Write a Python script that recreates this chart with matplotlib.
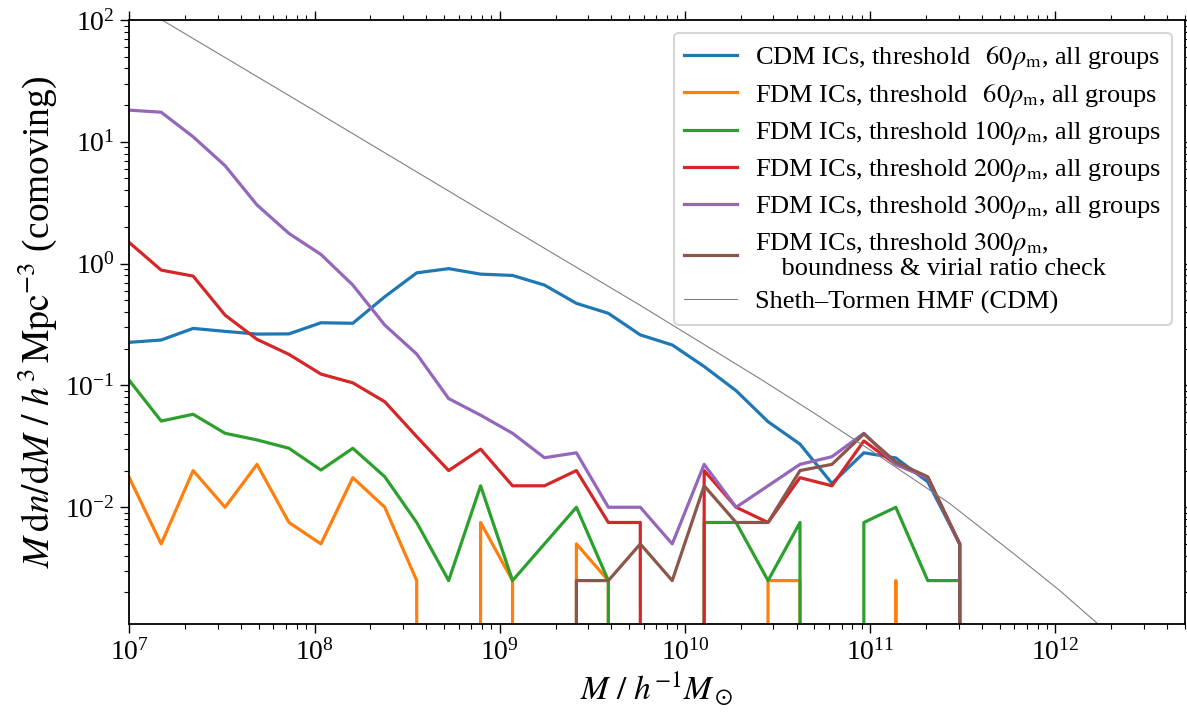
import numpy as np
import matplotlib
matplotlib.use("Agg")
import matplotlib.pyplot as plt

plt.rcParams['font.family'] = ['Liberation Serif', 'DejaVu Serif']
plt.rcParams['mathtext.fontset'] = 'stix'

# bin centres (halo mass, h^-1 Msun)
mass = [1.000e7, 1.487e7, 2.212e7, 3.290e7, 4.894e7, 7.279e7, 1.083e8, 1.610e8,
        2.395e8, 3.562e8, 5.298e8, 7.881e8, 1.172e9, 1.743e9, 2.593e9, 3.857e9,
        5.736e9, 8.532e9, 1.269e10, 1.887e10, 2.807e10, 4.175e10, 6.210e10,
        9.237e10, 1.374e11, 2.043e11, 3.039e11, 4.520e11, 6.723e11, 1.000e12]

cdm_60 = [0.226, 0.236, 0.294, 0.278, 0.264, 0.265, 0.327, 0.324, 0.535, 0.84,
          0.91, 0.82, 0.80, 0.667, 0.472, 0.391, 0.26, 0.215, 0.143, 0.0906,
          0.0504, 0.033, 0.0157, 0.028, 0.0254, 0.0162, 0.005, 0, 0, 0]
fdm_60 = [0.0175, 0.005, 0.02, 0.01, 0.0225, 0.0075, 0.005, 0.0175, 0.01, 0.0025,
          0, 0.0075, 0.0025, 0, 0.005, 0.0025, 0, 0, 0, 0,
          0.0025, 0.0025, 0, 0, 0.0025, 0, 0, 0, 0, 0]
fdm_100 = [0.11, 0.051, 0.058, 0.0405, 0.0357, 0.0305, 0.0202, 0.0305, 0.0178, 0.0075,
           0.0025, 0.015, 0.0025, 0.005, 0.01, 0.0025, 0, 0, 0.0075, 0.0075,
           0.0025, 0.0075, 0, 0.0075, 0.01, 0.0025, 0.0025, 0, 0, 0]
fdm_200 = [1.49, 0.885, 0.79, 0.378, 0.239, 0.18, 0.124, 0.105, 0.0735, 0.038,
           0.02, 0.03, 0.015, 0.015, 0.02, 0.0075, 0.0075, 0, 0.02, 0.01,
           0.0075, 0.0175, 0.015, 0.035, 0.0225, 0.0175, 0.005, 0, 0, 0]
fdm_300 = [18.2, 17.5, 11.0, 6.37, 3.03, 1.77, 1.19, 0.667, 0.313, 0.181,
           0.078, 0.057, 0.0405, 0.0255, 0.028, 0.01, 0.01, 0.005, 0.0225, 0.01,
           0.015, 0.0225, 0.026, 0.0405, 0.0225, 0.0175, 0.005, 0, 0, 0]
fdm_300_bound = [0, 0, 0, 0, 0, 0, 0, 0, 0, 0,
                 0, 0, 0, 0, 0.0025, 0.0025, 0.005, 0.0025, 0.015, 0.0075,
                 0.0075, 0.02, 0.0225, 0.04, 0.0235, 0.0178, 0.005, 0, 0, 0]

# Sheth-Tormen HMF (CDM)
st_mass = [1.0e7, 1.0e8, 1.0e9, 5.70e9, 2.51e10, 5.01e10, 1.0e11, 2.69e11,
           6.17e11, 1.047e12, 1.70e12, 2.51e12]
st_value = [144.5, 18.0, 2.213, 0.457, 0.1148, 0.0589, 0.0295, 0.01072,
            0.00398, 0.00209, 0.001096, 0.000603]

labels = [r'CDM ICs, threshold $\enspace60\rho_\mathrm{m}$, all groups',
          r'FDM ICs, threshold $\enspace60\rho_\mathrm{m}$, all groups',
          r'FDM ICs, threshold $100\rho_\mathrm{m}$, all groups',
          r'FDM ICs, threshold $200\rho_\mathrm{m}$, all groups',
          r'FDM ICs, threshold $300\rho_\mathrm{m}$, all groups',
          'FDM ICs, threshold $300\\rho_\\mathrm{m}$,\n    boundness & virial ratio check']

fig = plt.figure(figsize=(11.87, 7.2), dpi=100)
ax = fig.add_axes([0.1089, 0.1333, 0.8894, 0.8389])

series = [cdm_60, fdm_60, fdm_100, fdm_200, fdm_300, fdm_300_bound]
for i, s in enumerate(series):
    ax.plot(mass, s, color='C%d' % i, lw=2.3, label=labels[i])
ax.plot(st_mass, st_value, color='gray', lw=0.8, label='Sheth–Tormen HMF (CDM)')

ax.set_xscale('log')
ax.set_yscale('log')
ax.set_xlim(1e7, 5e12)
ax.set_ylim(1.1e-3, 1e2)

ax.set_xlabel(r'$M\ /\ h^{-1}M_\odot$', fontsize=24, labelpad=3)
ax.set_ylabel(r'$M\,\mathrm{d}n/\mathrm{d}M\ /\ h^3\,\mathrm{Mpc}^{-3}$ (comoving)', fontsize=27)
ax.tick_params(which='both', direction='out', top=True, right=True, labelsize=20)
ax.tick_params(which='major', length=6.5, width=1.0, pad=4)
ax.tick_params(which='minor', length=3.5, width=0.8)
for sp in ax.spines.values():
    sp.set_linewidth(1.3)

leg = ax.legend(loc='upper right', fontsize=19, handlelength=2.0, handletextpad=0.7,
                labelspacing=0.37)
leg.get_frame().set_linewidth(1.5)
leg.get_texts()[5].set_linespacing(1.05)

fig.savefig('out.png', dpi=100)
